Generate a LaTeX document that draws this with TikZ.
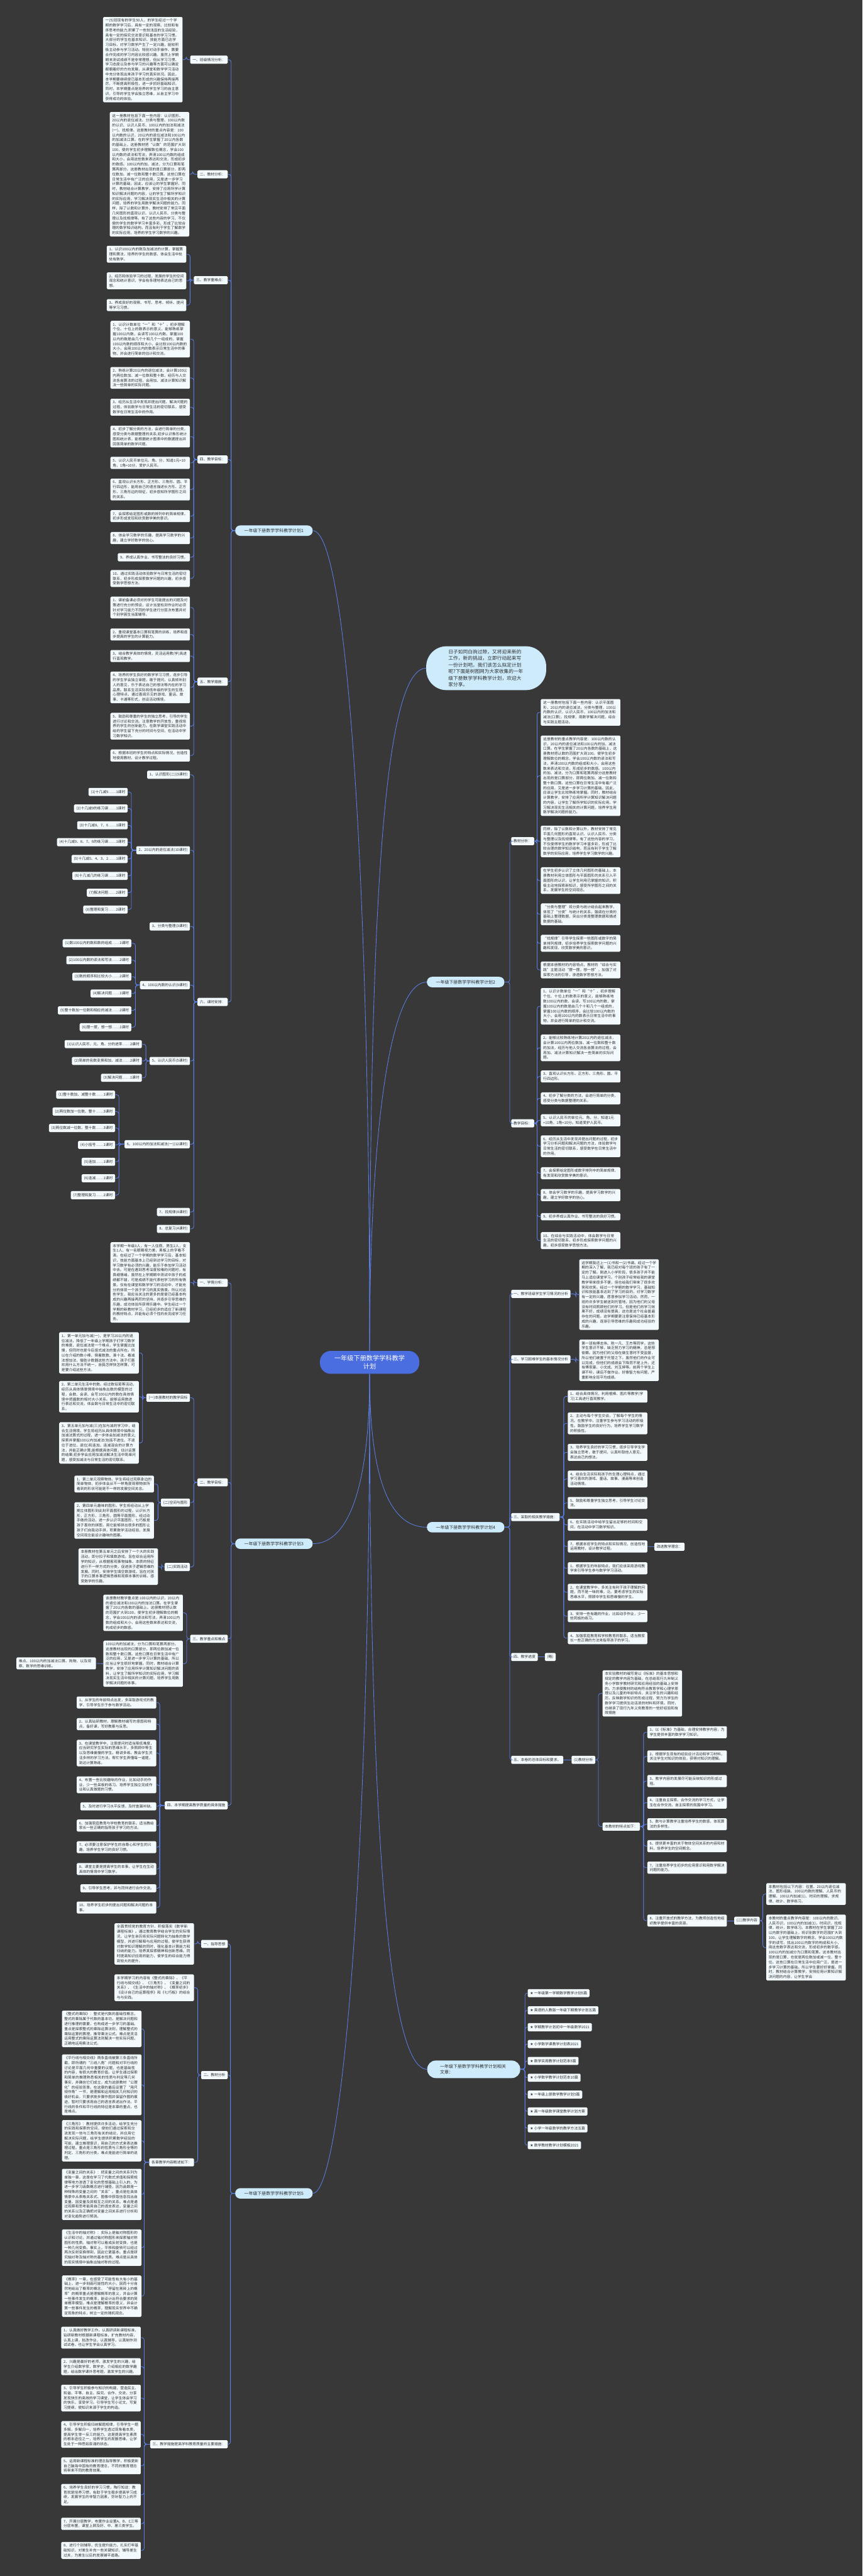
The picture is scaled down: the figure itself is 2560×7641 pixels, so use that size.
\documentclass[tikz,border=0pt]{standalone}
\usepackage{fontspec}
\setmainfont{Noto Sans CJK SC}
\newfontfamily\symfont{DejaVu Sans}
\XeTeXlinebreaklocale "zh"
\XeTeXlinebreakskip=0pt plus 0.5pt
\definecolor{bg}{HTML}{383838}
\definecolor{boxfill}{HTML}{F2FAFD}
\definecolor{txt}{HTML}{2E2E2E}
\definecolor{mainfill}{HTML}{CDEBFB}
\definecolor{cfill}{HTML}{4A6EE0}
\definecolor{lnk}{HTML}{5B7EE5}
\tikzset{
 box/.style={rectangle, rounded corners=3pt, fill=boxfill, text=txt, font=\fontsize{10.8}{14.5}\selectfont, text width=222pt, align=left, inner xsep=7pt, inner ysep=5.5pt},
 tag/.style={rectangle, rounded corners=3pt, fill=boxfill, text=txt, font=\fontsize{10.8}{14.5}\selectfont, inner xsep=7pt, inner ysep=4pt, minimum height=24pt},
 mainnode/.style={rectangle, rounded corners=15pt, fill=mainfill, text=txt, font=\fontsize{13}{16}\selectfont, minimum height=31pt, minimum width=230pt, inner xsep=10pt},
 conn/.style={draw=lnk, line width=1.6pt, rounded corners=7pt},
 curve/.style={draw=lnk, line width=1.6pt},
}
\newcommand\mbE[4]{\node[box,anchor=east] (#1) at (#2,#3) {#4};}
\newcommand\mbW[4]{\node[box,anchor=west] (#1) at (#2,#3) {#4};}
\newcommand\mtE[4]{\node[tag,anchor=east] (#1) at (#2,#3) {#4};}
\newcommand\mtW[4]{\node[tag,anchor=west] (#1) at (#2,#3) {#4};}
\newcommand\mlk[3]{\draw[conn] (#1.west) -- (#3,0 |- #1.west) -- (#3,0 |- #2.east) -- (#2.east);}
\newcommand\mrk[3]{\draw[conn] (#1.east) -- (#3,0 |- #1.east) -- (#3,0 |- #2.west) -- (#2.west);}
\begin{document}
\begin{tikzpicture}[x=1pt,y=-1pt]
\fill[bg] (0,0) rectangle (2560,7641);
\path[use as bounding box] (0,0) rectangle (2560,7641);

% ---------------- central ----------------
\node[rectangle, rounded corners=32pt, fill=cfill, text=white, font=\fontsize{19}{24}\selectfont, minimum width=295pt, minimum height=68pt, align=center] (c) at (1097,4041) {一年级下册数学学科教学\\计划};

% ---------------- intro ----------------
\node[rectangle, rounded corners=60pt, fill=mainfill, text=txt, font=\fontsize{14.3}{19.5}\selectfont, text width=224pt, align=left, minimum width=356pt, minimum height=130pt] (ib) at (1443,1982) {日子如同白驹过隙，又将迎来新的工作，新的挑战，立即行动起来写一份计划吧。我们该怎么拟定计划呢?下面是树图网为大家收集的一年级下册数学学科教学计划，欢迎大家分享。};

% ---------------- main branch nodes ----------------
\node[mainnode] (p1) at (813,1574) {一年级下册数学学科教学计划1};
\node[mainnode] (p2) at (1382,2913) {一年级下册数学学科教学计划2};
\node[mainnode] (p3) at (813,4579) {一年级下册数学学科教学计划3};
\node[mainnode] (p4) at (1382,4530) {一年级下册数学学科教学计划4};
\node[mainnode] (p5) at (813,6506) {一年级下册数学学科教学计划5};
\node[mainnode, rounded corners=25pt, minimum width=276pt, minimum height=52pt, text width=200pt, align=left] (rel) at (1406,6138) {一年级下册数学学科教学计划相关文章：};

% central curves
\draw[curve] (c.north) .. controls (1097,2600) and (1030,1574) .. (p1.east);
\draw[curve] (c.north) .. controls (1097,2800) and (1130,1982) .. (ib.west);
\draw[curve] (c.north) .. controls (1097,3400) and (1150,2913) .. (p2.west);
\draw[curve] (c.south) .. controls (1097,4450) and (1020,4579) .. (p3.east);
\draw[curve] (c.south) .. controls (1097,4420) and (1170,4530) .. (p4.west);
\draw[curve] (c.south) .. controls (1097,5400) and (1150,6138) .. (rel.west);
\draw[curve] (c.south) .. controls (1097,5600) and (1010,6506) .. (p5.east);

% ================= PLAN 1 =================
\mtE{s11}{676}{177}{一、班级情况分析：}
\mtE{s12}{676}{517}{二、教材分析：}
\mtE{s13}{676}{831}{三、教学重难点：}
\mtE{s14}{676}{1363}{四、教学目标：}
\mtE{s15}{676}{2022}{五、教学措施：}
\mtE{s16}{676}{2972}{六、课时安排：}
\foreach \n in {s11,s12,s13,s14,s15,s16}{\mlk{p1}{\n}{686}}

\mbE{a11}{542}{177}{一(5)班现有的学生50人，的学生经过一个学期的数学学习后，具有一定的观察、比较和有序思考的能力;积累了一些较浅显的生活经验，具有一定的探究交流意识和基本的学习习惯。大部分的学生在基本知识、技能方面已达学习目标，对学习数学产生了一定兴趣，能较积极主动参与学习活动。特别对动手操作、需要合作完成的学习内容比较感兴趣。虽然上学期期末测试成绩不是非常理想，但从学习习惯、学习态度以及参与学习的兴趣等方面可以确定都朝着好的方向发展，从课堂和数学学习活动中充分体现出来孩子学习的真实状况。因此，本学期要继续使已基本形成的兴趣保持再接再厉，不断提高积极性，进一步抓好基础知识。同时，本学期重点是培养的学生学习的自主意识，引导的学生学会独立思维，从自主学习中获得成功的体验。}
\mlk{s11}{a11}{553}
\mbE{a12}{562}{517}{这一册教材包括下面一些内容：认识图形、20以内的退位减法、分类与整理、100以内数的认识、认识人民币、100以内的加法和减法(一)、找规律。这册教材的重点内容是：100以内数的认识，20以内的退位减法和100以内的加减法口算。在的学生掌握了20以内各数的基础上，这册教材把“认数”的范围扩大到100，使的学生初步理解数位概念，学会100以内数的读法和写法，弄清100以内数的组成和大小，会用这些数来表达和交流，形成初步的数感。100以内的加、减法，分为口算和笔算两部分。这册教材出现的是口算部分，即两位数加、减一位数和整十数口算。这些口算在日常生活中有广泛的应用，又是进一步学习计算的基础，因此，应该让的学生掌握好。同时，教材结合计算教学，安排了应用所学计算知识解决问题的内容，让的学生了解所学知识的实际应用，学习解决现实生活中相关的计算问题，培养的学生用数学解决问题的能力。同样，除了认数和计算外，教材安排了常见平面几何图形的直观认识、认识人民币、分类与整理以及找规律等。有了这些内容的学习，不仅使的学生的数学学习丰富多彩，形成了比较合理的数学知识结构，而且有利于学生了解数学的实际应用，培养的学生学习数学的兴趣。}
\mlk{s12}{a12}{572}
\mbE{b1}{553}{754}{1、认识100以内的数及加减法的计算，掌握算理和算法，培养的学生的数感，体会生活中处处有数学。}
\mbE{b2}{553}{833}{2、经历和体验学习的过程，发展的学生的空间观念和统计意识，学会有条理地表达自己的思想。}
\mbE{b3}{553}{905}{3、养成良好的观察、书写、思考、倾听、提问等学习习惯。}
\foreach \n in {b1,b2,b3}{\mlk{s13}{\n}{564}}

\mbE{c1}{564}{1006}{1、认识计数单位“一”和“十”，初步理解个位、十位上的数表示的意义，能够熟练掌握100以内数，会读写100以内数。掌握100以内的数是由几个十和几个一组成的，掌握100以内数的顺序和大小，会比较100以内数的大小，会用100以内的数表示日常生活中的事物，并会进行简单的估计和交流。}
\mbE{c2}{564}{1121}{2、熟练计算20以内的退位减法，会计算100以内两位数加、减一位数和整十数，经历与人交流各自算法的过程，会用加、减法计算知识解决一些简单的实际问题。}
\mbE{c3}{564}{1208}{3、经历从生活中发现并提出问题、解决问题的过程，体验数学与日常生活的密切联系，感受数学在日常生活中的作用。}
\mbE{c4}{564}{1295}{4、初步了解分类的方法，会进行简单的分类，感受分类与数据整理的关系;初步认识象形统计图和统计表，能根据统计图表中的数据提出并回答简单的数学问题。}
\mbE{c5}{564}{1373}{5、认识人民币单位元、角、分，知道1元=10角，1角=10分，爱护人民币。}
\mbE{c6}{564}{1452}{6、直观认识长方形、正方形、三角形、圆、平行四边形，能用自己的语言描述长方形、正方形、三角形边的特征，初步感知所学图形之间的关系。}
\mbE{c7}{564}{1531}{7、会探索给定图形或数的排列中的简单规律，初步形成发现和欣赏数学美的意识。}
\mbE{c8}{564}{1596}{8、体会学习数学的乐趣，提高学习数学的兴趣，建立学好数学的信心。}
\mtE{c9}{564}{1653}{9、养成认真作业、书写整洁的良好习惯。}
\mbE{c10}{564}{1716}{10、通过实践活动体验数学与日常生活的密切联系，初步形成探索数学问题的兴趣，初步感受数学思想方法。}
\foreach \n in {c1,c2,c3,c4,c5,c6,c7,c8,c9,c10}{\mlk{s14}{\n}{575}}

\mbE{d1}{564}{1802}{1、课前备课必须对的学生可能提出的问题及对策进行充分的预设，设计当堂检测作业时必须针对学习能力不同的学生进行分层次布置并对个别学困生当面辅导。}
\mbE{d2}{564}{1882}{2、重视课堂基本口算和笔算的训练，培养和逐步提高的学生的计算能力。}
\mbE{d3}{564}{1946}{3、结合教学具体的情境，灵活运用教(学)具进行直观教学。}
\mbE{d4}{564}{2039}{4、培养的学生良好的数学学习习惯，逐步引导的学生学会独立审题，敢于提问，认真倾听别人的意见，乐于表达自己的想法等内在的学习品质。联系生活实际和低年级的学生的生理、心理特点，通过喜闻乐见的游戏、童话、故事、卡通等形式，创设活动情境。}
\mbE{d5}{564}{2154}{5、鼓励和尊重的学生的独立思考，引导的学生进行讨论和交流。注意教学的开放性，重视培养的学生的创新能力。在数学课堂实践活动中给的学生留下充分的时间与空间，在活动中学习数学知识。}
\mbE{d6}{564}{2241}{6、根据本班的学生的特点和实际情况，创造性地使用教材，设计教学过程。}
\foreach \n in {d1,d2,d3,d4,d5,d6}{\mlk{s15}{\n}{575}}

\mtE{k1}{564}{2298}{1、认识图形(二)(3课时)}
\mtE{k2}{564}{2522}{2、20以内的退位减法(10课时)}
\mtE{k3}{564}{2748}{3、分类与整理(3课时)}
\mtE{k4}{564}{2922}{4、100以内数的认识(9课时)}
\mtE{k5}{564}{3147}{5、认识人民币(5课时)}
\mtE{k6}{564}{3394}{6、100以内的加法和减法(一)(12课时)}
\mtE{k7}{564}{3595}{7、找规律(4课时)}
\mtE{k8}{564}{3645}{8、总复习(4课时)}
\foreach \n in {k1,k2,k3,k4,k5,k6,k7,k8}{\mlk{s16}{\n}{575}}

\mtE{ka1}{379}{2349}{(1)十几减9……1课时}
\mtE{ka2}{379}{2398}{(2)十几减9的练习课……1课时}
\mtE{ka3}{379}{2448}{(3)十几减8、7、6……1课时}
\mtE{ka4}{379}{2498}{(4)十几减9、8、7、6的练习课……1课时}
\mtE{ka5}{379}{2548}{(5)十几减5、4、3、2……1课时}
\mtE{ka6}{379}{2598}{(6)十几减几的练习课……1课时}
\mtE{ka7}{379}{2648}{(7)解决问题……2课时}
\mtE{ka8}{379}{2698}{(8)整理和复习……2课时}
\foreach \n in {ka1,ka2,ka3,ka4,ka5,ka6,ka7,ka8}{\mlk{k2}{\n}{390}}

\mtE{kb1}{390}{2798}{(1)数100以内的数和数的组成……1课时}
\mtE{kb2}{390}{2848}{(2)100以内数的读法和写法……2课时}
\mtE{kb3}{390}{2897}{(3)数的顺序和比较大小……2课时}
\mtE{kb4}{390}{2947}{(4)解决问题……1课时}
\mtE{kb5}{390}{2997}{(5)整十数加一位数和相应的减法……2课时}
\mtE{kb6}{390}{3047}{(6)摆一摆，想一想……1课时}
\foreach \n in {kb1,kb2,kb3,kb4,kb5,kb6}{\mlk{k4}{\n}{402}}

\mtE{kc1}{421}{3097}{(1)认识人民币，元、角、分的进率……2课时}
\mtE{kc2}{421}{3147}{(2)简单的名数变换和加、减法……2课时}
\mtE{kc3}{421}{3197}{(3)解决问题……1课时}
\foreach \n in {kc1,kc2,kc3}{\mlk{k5}{\n}{433}}

\mtE{kd1}{342}{3247}{(1)整十数加、减整十数……1课时}
\mtE{kd2}{342}{3297}{(2)两位数加一位数、整十……3课时}
\mtE{kd3}{342}{3346}{(3)两位数减一位数、整十数……3课时}
\mtE{kd4}{342}{3396}{(4)小括号……1课时}
\mtE{kd5}{342}{3446}{(5)连加……1课时}
\mtE{kd6}{342}{3495}{(6)连减……1课时}
\mtE{kd7}{342}{3545}{(7)整理和复习……2课时}
\foreach \n in {kd1,kd2,kd3,kd4,kd5,kd6,kd7}{\mlk{k6}{\n}{353}}

% ================= PLAN 2 =================
\mtW{t21}{1517}{2495}{教材分析：}
\mtW{t22}{1517}{3332}{教学目标：}
\mrk{p2}{t21}{1513}
\mrk{p2}{t22}{1513}
\mbW{e1}{1605}{2113}{这一册教材包括下面一些内容：认识平面图形，20以内的退位减法，分类与整理，100以内数的认识，认识人民币，100以内的加法和减法(口算)，找规律，用数学解决问题，综合与实践主题活动。}
\mbW{e2}{1605}{2301}{这册教材的重点教学内容是：100以内数的认识，20以内的退位减法和100以内的加、减法口算。在学生掌握了20以内各数的基础上，这册教材把认数的范围扩大到100。使学生初步理解数位的概念，学会100以内数的读法和写法，弄清100以内数的组成和大小，会用这些数来表达和交流，形成初步的数感。100以内的加、减法，分为口算和笔算两部分这册教材出现的是口算部分，即两位数加、减一位数和整十数口算。这些口算在日常生活中有着广泛的应用，又是进一步学习计算的基础。因此，应该让学生比较熟练地掌握。同时，教材结合计算教学，安排了应用所学计算知识解决问题的内容，让学生了解所学知识的实际应用，学习解决现实生活相关的计算问题，培养学生用数学解决问题的能力。}
\mbW{e3}{1605}{2496}{同样，除了认数和计算以外，教材安排了常见平面几何图形的直观认识、认识人民币、分类与整理以及找规律等。有了这些内容的学习，不仅使得学生的数学学习丰富多彩，形成了比较合理的数学知识结构，而且有利于学生了解数学的实际应用，培养学生学习数学的兴趣。}
\mbW{e4}{1605}{2612}{在学生初步认识了立体几何图形的基础上，本册教材利用立体图形与平面图形的关系引入平面图形的认识，让学生利用已掌握的知识，积极主动地探索新知识，感受所学图形之间的关系，发展学生的空间观念。}
\mbW{e5}{1605}{2712}{“分类与整理”将分类与统计结合起来教学，体现了“分类”与统计的关系，强调在分类的基础上整理数据，突出分类是整理数据和描述数据的基础。}
\mbW{e6}{1605}{2798}{“找规律”引导学生探索一些图形或数字的简单排列规律，初步培养学生探索数学问题的兴趣和发现、欣赏数学美的意识。}
\mbW{e7}{1605}{2877}{根据本册教材的内容特点，教材的“综合与实践”主题活动“摆一摆，想一想”，加强了对探索方法的引导，渗透数学思想方法。}
\foreach \n in {e1,e2,e3,e4,e5,e6,e7}{\mrk{t21}{\n}{1594}}

\mbW{f1}{1605}{2985}{1、认识计数单位“一”和“十”，初步理解个位、十位上的数表示的意义，能够熟练地数100以内的数，会读、写100以内的数，掌握100以内的数是由几个十和几个一组成的，掌握100以内数的顺序，会比较100以内数的大小，会用100以内的数表示日常生活中的事物，并会进行简单的估计和交流。}
\mbW{f2}{1605}{3108}{2、能够比较熟练地计算20以内的退位减法，会计算100以内两位数加、减一位数和整十数的加法，经历与他人交流各自算法的过程，会用加、减法计算知识解决一些简单的实际问题。}
\mbW{f3}{1605}{3193}{3、直观认识长方形、正方形、三角形、圆、平行四边形。}
\mbW{f4}{1605}{3258}{4、初步了解分类的方法，会进行简单的分类，感受分类与数据整理的关系。}
\mbW{f5}{1605}{3323}{5、认识人民币的单位元、角、分，知道1元=10角，1角=10分。知道爱护人民币。}
\mbW{f6}{1605}{3400}{6、经历从生活中发现并提出问题的过程，初步学习分析问题和解决问题的方法，体验数学与日常生活的密切联系，感受数学在日常生活中的作用。}
\mbW{f7}{1605}{3480}{7、会探索给定图形或数字排列中的简单规律，有发现和欣赏数学美的意识。}
\mbW{f8}{1605}{3545}{8、体会学习数学的乐趣，提高学习数学的兴趣，建立学好数学的信心。}
\mbW{f9}{1605}{3609}{9、初步养成认真作业、书写整洁的良好习惯。}
\mbW{f10}{1605}{3680}{10、在综合与实践活动中，体会数学与日常生活的密切联系，初步形成探索数学问题的兴趣，初步感受数学思想方法。}
\foreach \n in {f1,f2,f3,f4,f5,f6,f7,f8,f9,f10}{\mrk{t22}{\n}{1594}}

% ================= PLAN 4 =================
\mtW{g1}{1517}{3838}{一、教学班级学生学习情况的分析}
\mtW{g2}{1517}{4032}{二、学习困难学生的基本情况分析}
\mtW{g3}{1517}{4500}{三、采取的相关教学措施：}
\mtW{g4}{1517}{4915}{四、教学进度}
\mtW{g5}{1517}{5220}{五、本卷的总体目标和要求。}
\foreach \n in {g1,g2,g3,g4,g5}{\mrk{p4}{\n}{1513}}
\mbW{g1a}{1719}{3840}{这学期我还上一(1)书和一(2)书课。经过一个学期的深入了解，我已经对每个班的孩子有了一定的了解。刚进入小学阶段，很多孩子并不能马上适应课堂学习。个别孩子经常给我的课堂教学带来很多不便，但也给我们带来了很多欢笑和欢笑。经过一个学期的数学学习，基础知识和技能基本达到了学习的目的，对学习数学有一定的兴趣，愿意参加学习活动。然而，一班的许多学生被送到托管地，因为他们的父母没有时间照顾他们的学习。但是他们的学习效果不好，成绩没有提高，这也是这个社会普遍存在的问题。这学期要更注意保持已经基本形成的兴趣，逐渐引导思维的乐趣和成功经验的乐趣。}
\mrk{g1}{g1a}{1709}
\mbW{g2a}{1719}{4035}{第一班有傅志伟、陈一凡、王杰等同学。这些学生意识不够，缺乏努力学习的精神，总是想偷懒。因为他们的父母在做生意时不受监督，所以他们被置于托管之下。虽然他们的作业可以完成，但他们的成绩会下降而不是上升。还有傅家豪、小文成、刘玉婷等。前两个学生上课不听，课后不做作业。好像智力有问题，严重影响全班平均成绩。}
\mrk{g2}{g2a}{1709}

\mbW{h1}{1685}{4142}{1、结合具体情况，利用棍棒、图片等教学(学习)工具进行直观教学。}
\mbW{h2}{1685}{4222}{2、主动与每个学生交谈，了解每个学生的情况。在教学中，注重学生参与学习活动的积极性。鼓励学生的良好行为，培养学生学习数学的积极性。}
\mbW{h3}{1685}{4308}{3、培养学生良好的学习习惯，逐步引导学生学会独立思考，敢于提问，认真听取他人意见，表达自己的想法。}
\mbW{h4}{1685}{4387}{4、结合生活实际和孩子的生理心理特点，通过学习喜欢的游戏、童话、故事、漫画等来创造活动情境。}
\mbW{h5}{1685}{4458}{5、鼓励和尊重学生独立思考，引导学生讨论交流。}
\mbW{h6}{1685}{4523}{6、在实践活动中给学生留出足够的时间和空间，在活动中学习数学知识。}
\mbW{h7}{1685}{4587}{7、根据本班学生的特点和实际情况，创造性地运用教材，设计教学过程。}
\mbW{h8}{1685}{4652}{1、根据学生的年龄特点，我们应该采用游戏教学来引导学生参与数学学习活动。}
\mbW{h9}{1685}{4723}{2、在课堂教学中，多关注有利于孩子理解的问题，而不是一味的难，泛。要考虑学生的实际思维水平，照顾中学生和思维慢的学生。}
\mbW{h10}{1685}{4794}{3、安排一些有趣的作业，比如动手作业，少一些死板的练习。}
\mbW{h11}{1685}{4859}{4、加强家庭教育和学校教育的联系，适当教家长一些正确的方法来指导孩子的学习。}
\foreach \n in {h1,h2,h3,h4,h5,h6,h7,h8,h9,h10,h11}{\mrk{g3}{\n}{1673}}
\mtW{hh}{1942}{4588}{改进教学理念：}
\draw[conn] (h7.east) -- (hh.west);
\mtW{g4a}{1617}{4915}{(略)}
\draw[conn] (g4.east) -- (g4a.west);
\mtW{g5a}{1696}{5220}{(1)教材分析}
\draw[conn] (g5.east) -- (g5a.west);
\mbW{g5b}{1788}{5023}{本实验教材的编写是以《标准》的基本思想和规定的教学内容为基础，在总结现行九年制义务小学数学教材研究和应用经验的基础上安排的。力求使教材的结构符合教育学和心理学原理以及儿童的年龄特点，关注学生的兴趣和经历，反映数学知识的形成过程，努力为学生的数学学习提供生动活泼的材料和环境。同时，也继承了现行九年义务教育的一些好经验和有效措施}
\mtW{g5c}{1788}{5418}{本教材的特点如下：}
\mrk{g5a}{g5b}{1776}
\mrk{g5a}{g5c}{1776}
\mbW{m1}{1921}{5138}{1、以《标准》为基础，合理安排教学内容，为学生提供丰富的数学学习知识。}
\mbW{m2}{1921}{5210}{2、根据学生现有的经验设计活动和学习材料，关注学生对知识的体验，获得对知识的理解。}
\mbW{m3}{1921}{5283}{3、教学内容的发展尽可能反映知识的形成过程。}
\mbW{m4}{1921}{5347}{4、注重自主探索、合作交流的学习方式，让学生在合作交流、自主探索的氛围中学习。}
\mbW{m5}{1921}{5411}{5、数与计算教学注重培养学生的数感，体现算法的多样性。}
\mbW{m6}{1921}{5476}{6、提供更丰富的关于物体空间关系的内容和材料，培养学生的空间概念。}
\mbW{m7}{1921}{5540}{7、注重培养学生初步的应用意识和用数学解决问题的能力。}
\mbW{m8}{1921}{5697}{8、注重开放式的教学方法，为教师创造性地组织教学提供丰富的资源。}
\foreach \n in {m1,m2,m3,m4,m5,m6,m7,m8}{\mrk{g5c}{\n}{1910}}
\mtW{n0}{2179}{5697}{(二)教学内容}
\draw[conn] (m8.east) -- (n0.west);
\mbW{n1}{2274}{5618}{本教材包括以下内容：位置、20以内退位减法、图形组装、100以内数的理解、人民币的理解、100以内加减(1)、时间的理解、求规律、统计、数学练习。}
\mbW{n2}{2274}{5777}{本教材的重点教学内容是：100以内的数识。人民币识，100以内的加减(1)，时间识，找规律，统计，数学练习。本教材在学生掌握了20以内数字的基础上，将识别数字的范围扩大到100。让学生理解数字的概念，学会100以内数字的读写。找出100以内数字的构成和大小，用这些数字表达和交流，形成初步的数字感。100以内的加减分为口算和笔算。这本教材出现的是口算，也就是两位数加或减一位，整十位。这些口算在日常生活中应用广泛，是进一步学习计算的基础。所以学生要好好掌握。同时，教材结合计算教学，安排应用计算知识解决问题的内容，让学生学会}
\mrk{n0}{n1}{2264}
\mrk{n0}{n2}{2264}

% ================= PLAN 3 =================
\mtE{v1}{676}{3805}{一、学情分析：}
\mtE{v2}{676}{4397}{二、教学目标：}
\mtE{v3}{676}{4861}{三、教学重点和难点}
\mtE{v4}{676}{5355}{四、本学期提高教学质量的具体措施}
\foreach \n in {v1,v2,v3,v4}{\mlk{p3}{\n}{686}}
\mbE{v1a}{564}{3804}{本学期一年级3人，有一人住宿，男生2人，女生1人，有一名眼睛视力差，黑板上的字看不清。在经过了一个学期的数学学习后，基本知识，技能方面基本上已经到达学习的目标，对学习数学有必须的兴趣，能乐于参加学习活动中去。可是在遇到思考深度较难的问题时，有畏缩情绪。虽然在上学期期中测试中孩子的成绩都不错，可是成绩不能代表他学习的所有情景。仅有在课堂和数学学习的活动中，才能充分的体现一个孩子学习的真实情景。所以对这些学生，我应当关注的更多的是使已经基本构成的兴趣再接再厉的坚持，并逐步引导思维的乐趣，成功体验所获得乐趣中。学生经过一个学期的新教材学习，已经初步的适应了新课程的教材特点，并能有必须个性的去完成学习任务。}
\mlk{v1}{v1a}{575}
\mtE{w1}{564}{4146}{(一)本册教材的教学目标}
\mtE{w2}{564}{4457}{(二)空间与图形}
\mtE{w3}{564}{4648}{(二)实践活动}
\foreach \n in {w1,w2,w3}{\mlk{v2}{\n}{575}}
\mbE{w1a}{412}{4013}{1、第一单元加与减(一)，是学习20以内的退位减法，降低了一年级上学期孩子们学习数学的难度，退位减法是一个难点，学生掌握比加慢，但同时也是今后竖式减法的重点所在。所以在介绍的数小棒、倒着数数、凑十法、看减法想加法，借助计数器这些方法中。孩子们喜欢用什么方法不统一，自我怎样快怎样算，可是要介绍这些方法。}
\mbE{w1b}{412}{4143}{2、第二单元生活中的数。经过数铅笔等活动，经历从具体情景情境中抽象出数的模型的过程，会数、会读、会写100以内的数在具体情境中把握数的相对大小关系。能够运用数进行表达和交流，体会数与日常生活中的密切联系。}
\mbE{w1c}{412}{4280}{3、第五单元加与减(三)在加与减的学习中，结合生活情境，学生将经历从具体情境中抽象出加减法算式的过程，进一步体会加减法的意义;探索并掌握100以内加减法(包括不进位、不退位于进位、退位)和连加、连减混合的计算方法，并能正确计算;能根据具体问题，估计运算的结果;初步学会应用加减法解决生活中简单问题，感受加减法与日常生活的密切联系。}
\foreach \n in {w1a,w1b,w1c}{\mlk{w1}{\n}{423}}
\mbE{w2a}{457}{4402}{1、第二单元观察物体。学生将经过观察身边的简单物体，初步体会从不一样角度观察物体所看到的形状可能是不一样的发展空间关念。}
\mbE{w2b}{457}{4510}{2、第四单元趣味的图形。学生将经动从上学期立体图形到此刻平面图形的过程，认识长方形，正方形，三角形，圆等平面图形，经过动手做的活动，进一步认识平面图形，七巧板是孩子喜欢的拼图，用它能够拼出很多的图形让孩子们自我动手拼，积累数学活动经验，发展空间观念能设计趣味的图案。}
\foreach \n in {w2a,w2b}{\mlk{w2}{\n}{469}}
\mbE{w3a}{469}{4647}{本册教材在第五单元之后安排了一个大的实践活动，即分扣子和填数游戏。旨在综合运用所学的知识，从根据客观事物抽象、本质的特征进行不一样方式的分类，促进孩子逻辑思维的发展。同时，安排学生填空数游戏，旨在对孩子的口算本事逻辑思维和观察本事的训练、感受数学的乐趣。}
\mlk{w3}{w3a}{480}
\mbE{v3a}{543}{4784}{该册教材教学重点是:100以内的认识，20以内的退位减法和100以内的加法口算。在学生掌握了20以内各数的基础上。这册教材把认数的范围扩大到100，使学生初步理解数位的概念，学会100以内的读法和写法，弄清100以内数的组成和大小，会用这些数来表达和交流，构成初步的数感。}
\mbE{v3b}{543}{4935}{100以内的加减法，分为口算和笔算两部分。这册教材出现的口算部分，即两位数加减一位数和整十数口算。这些口算在日常生活中有广泛的应用，又是进一步学习计算的基础，所以应当让学生很好地掌握。同时，教材结合计算教学，安排了应用所学计算知识解决问题的资料，让学生了解所学知识的实际应用，学习解决现实生活中相关的计算问题，培养学生用数学解决问题的本事。}
\foreach \n in {v3a,v3b}{\mlk{v3}{\n}{554}}
\mbE{v3c}{285}{4934}{难点、100以内的加减法口算、购物、以及观察、数学的思维训练。}
\draw[conn] (v3b.west) -- (v3c.east);
\mbE{q1}{464}{5050}{1、从学生的年龄特点出发，多采取游戏式的教学，引导学生乐于参与数学活动。}
\mbE{q2}{464}{5114}{2、认真钻研教材，理解教材编写的意图和特点，备好课，写好教案与反思。}
\mbE{q3}{464}{5200}{3、在课堂教学中，注意提问时适当降低难度，应当研究学生实际的思维水平，多照顾中等生以及思维偏慢的学生。精讲多练。教会学生灵活多样的学习方法。帮忙学生弄懂每一道题，到达计算熟练。}
\mbE{q4}{464}{5294}{4、布置一些比较趣味的作业，比如动手的作业，少一些呆板的练习。培养学生独立完成作业和认真做题的习惯。}
\mtE{q5}{464}{5358}{5、及时进行学习水平反馈，及时查漏补缺。}
\mbE{q6}{464}{5415}{6、加强家庭教育与学校教育的联系，适当教给家长一些正确的指导孩子学习的方法。}
\mbE{q7}{464}{5479}{7、必须要注意保护学生的自尊心和学生的兴趣。培养学生学习的良好习惯。}
\mbE{q8}{464}{5544}{8、课堂主要是提高学生的本事，让学生在生动具体的情境中学习数学。}
\mtE{q9}{464}{5601}{9、引导学生思考，并与同伴进行合作交流。}
\mbE{q10}{464}{5658}{10、培养学生初步的提出问题和解决问题的本事。}
\foreach \n in {q1,q2,q3,q4,q5,q6,q7,q8,q9,q10}{\mlk{v4}{\n}{474}}

% ================= PLAN 5 =================
\mtE{x1}{676}{5766}{一、指导思想}
\mtE{x2}{676}{6155}{二、教材分析}
\mtE{x3}{676}{7250}{三、教学措施提高学科教育质量的主要措施：}
\foreach \n in {x1,x2,x3}{\mlk{p5}{\n}{684}}
\mbE{x1a}{576}{5766}{全面贯彻党的教育方针，积极落实《数学新课程标准》。通过教育教学结合学生的实际情况，让学生亲历将实际问题转化为抽象的数学模型，并进行解释与应用的过程。使学生获得对数学知识理解的同时，强化基本计算能力和归纳的能力。培养其探索精神和创新思维。同时提高知识应用的能力，使学生的综合能力得到较大的提升。}
\mlk{x1}{x1a}{587}
\mbE{x2a}{576}{5896}{本学期学习的内容有《整式的乘除》、《平行线与相交线》、《三角形》、《变量之间的关系》、《生活中的轴对称》、《概率初步》《设计自己的运算程序》和《七巧板》的综合与与实践。}
\mtE{x2b}{576}{6414}{各章教学内容概述如下：}
\mlk{x2}{x2a}{587}
\mlk{x2}{x2b}{587}
\mbE{y1}{420}{6018}{《整式的乘除》：整式是代数的基础性概念，整式的乘除属于代数的基本功，是解决问题和进行推理的需要，也构成进一步学习的基础。重点是探索整式的乘除运算法则，理解整式的乘除运算的算理，推导乘法公式。难点是灵活运用整式的乘除运算法则解决一些实际问题，正确地运用乘法公式。}
\mbE{y2}{420}{6184}{《平行线与相交线》两条直线被第三条直线所截，即所谓的“三线八角”问题和对平行线的讨论是平面几何中重要的议题，也是基础性的内容，有很大的教育价值。让学生通过探索和简单的推理熟悉相关的性质与判定等几何事实，并确信它们成立，成为这册教材“公理化”的经验背景。在这章的最后设置了“用尺规作角”一节，是理解和运用相关几何知识的极好机会，只要求按步骤作图并保留作图的痕迹，暂时只要求用自己的语言表述出作法。平行线的条件和平行线的特征是本章的重点，也是难点。}
\mbE{y3}{420}{6350}{《三角形》：教材提供许多活动，给学生充分的实践和探索的空间，使他们通过探索和交流发现一些与三角形有关的结论，并应用它解决实际问题，给学生提供积累数学经验的可能，建立推理意识，用自己的方式来表达推理过程。重点是三角形的性质与三角形全等的判定、三角形的分类。难点是能进行简单的说理。}
\mbE{y4}{420}{6509}{《变量之间的关系》：把变量之间的关系列为单独一章，这是在学习了代数式求值和探索规律等地方渗透了变化的思想基础上引入的，为进一步学习函数概念进行铺垫，因为函数是一种特殊的变量之间的“关系”。重点是在具体情景中从表格关系式、图像中获取信息找出自变量、因变量及其相互之间的关系。难点是通过观察和思考能用自己的语言表达，变量之间的关系以及正确把对变量之间关系进行分析和对变化趋势进行预测。}
\mbE{y5}{420}{6667}{《生活中的轴对称》：实际上是轴对称图形的认识和讨论，并通过轴对称图形来探索轴对称图形的性质。轴对称可以看成反射变换，也是一种几何变换。事实上，平移和旋转可以经过两次反射变换得到，因此它更基本。重点是研究轴对称及轴对称的基本性质。难点是从具体的现实情境中抽象出轴对称的过程。}
\mbE{y6}{420}{6811}{《概率》一章，在感受了可能性有大有小的基础上，进一步刻画可能性的大小，因而十分自然地给出了概率的概念，“停留在黑砖上的概率”的概率重点是理解概率的意义，并会计算一些事件发生的概率，能设计出符合要求的简单概率模型。难点是理解概率的意义，并会计算一些事件发生的概率，理解现实世界中不确定现象的特点，树立一定的随机观念。}
\foreach \n in {y1,y2,y3,y4,y5,y6}{\mlk{x2b}{\n}{428}}
\mbE{z1}{418}{6934}{1、认真做好教学工作。认真研读新课程标准，钻研新教材根据新课程标准，扩充教材内容，认真上课，批改作业，认真辅导，认真制作测试试卷，也让学生学会认真学习。}
\mbE{z2}{418}{7020}{2、兴趣是最好的老师，激发学生的兴趣，给学生介绍数学家，数学史，介绍相应的数学趣题，给出数学课外思考题，激发学生的兴趣。}
\mbE{z3}{418}{7113}{3、引导学生积极参与知识的构建，营造民主、和谐、平等、自主、探究、合作、交流、分享发现快乐的高效的学习课堂，让学生体会学习的快乐，享受学习。引导学生写小论文，写复习提纲，使知识来源于学生的构造。}
\mbE{z4}{418}{7221}{4、引导学生积极归纳解题规律，引导学生一题多解，多解归一，培养学生透过现象看本质，提高学生举一反三的能力，这是提高学生素质的根本途径之一，培养学生的发散思维，让学生处于一种思如泉涌的状态。}
\mbE{z5}{418}{7314}{5、运用新课程标准的理念指导教学，积极更新自己脑海中固有的教育理念，不同的教育理念将带来不同的教育效果。}
\mbE{z6}{418}{7400}{6、培养学生良好的学习习惯，陶行知说：教育就是培养习惯，有助于学生稳步提高学习成绩，发展学生的非智力因素，弥补智力上的不足。}
\mbE{z7}{418}{7486}{7、开展分层教学，布置作业设置A、B、C三等分层布置，课堂上顾及好、中、差三类学生。}
\mbE{z8}{418}{7565}{8、进行个别辅导，优生提升能力，扎实打牢基础知识，对差生补充一些关键知识，辅导差生过关，为差生以后的发展铺平道路。}
\foreach \n in {z1,z2,z3,z4,z5,z6,z7,z8}{\mlk{x3}{\n}{428}}

% ================= RELATED =================
\mtW{r1}{1566}{5912}{{\symfont ★} 一年级第一学期数学教学计划5篇}
\mtW{r2}{1566}{5963}{{\symfont ★} 英语的人教版一年级下期教学计划五篇}
\mtW{r3}{1566}{6013}{{\symfont ★} 学期教学计划初中一年级数学2021}
\mtW{r4}{1566}{6063}{{\symfont ★} 小学数学课教学计划表2021}
\mtW{r5}{1566}{6113}{{\symfont ★} 数学实用教学计划范本5篇}
\mtW{r6}{1566}{6163}{{\symfont ★} 小学数学教学计划范本10篇}
\mtW{r7}{1566}{6213}{{\symfont ★} 一年级上册数学教学计划5篇}
\mtW{r8}{1566}{6263}{{\symfont ★} 高一年级数学课堂教学计划方案}
\mtW{r9}{1566}{6313}{{\symfont ★} 小学一年级数学的教学方法五篇}
\mtW{r10}{1566}{6363}{{\symfont ★} 数学教材教学计划模板2021}
\foreach \n in {r1,r2,r3,r4,r5,r6,r7,r8,r9,r10}{\mrk{rel}{\n}{1558}}
\end{tikzpicture}
\end{document}
